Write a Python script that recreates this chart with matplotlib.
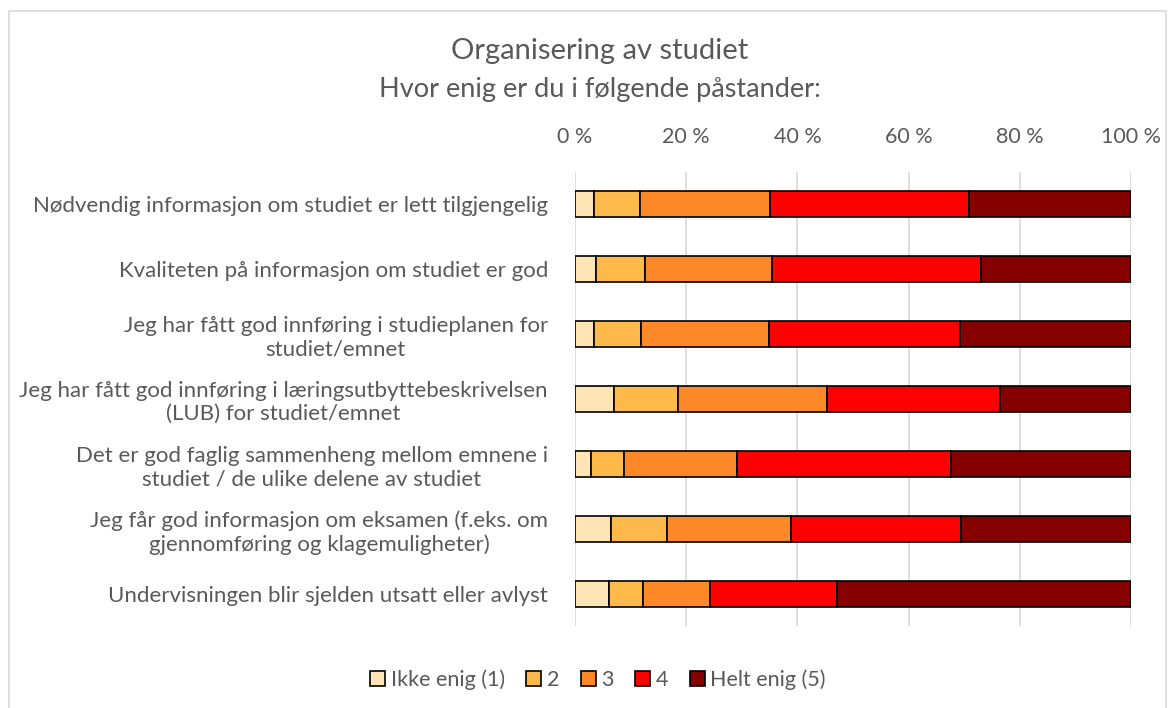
import numpy as np
import matplotlib
matplotlib.use("Agg")
from matplotlib import pyplot as plt
from matplotlib.patches import Rectangle

plt.rcParams['font.family'] = ['Lato', 'DejaVu Sans']

questions = [
    "Nødvendig informasjon om studiet er lett tilgjengelig",
    "Kvaliteten på informasjon om studiet er god",
    "Jeg har fått god innføring i studieplanen for\nstudiet/emnet",
    "Jeg har fått god innføring i læringsutbyttebeskrivelsen\n(LUB) for studiet/emnet",
    "Det er god faglig sammenheng mellom emnene i\nstudiet / de ulike delene av studiet",
    "Jeg får god informasjon om eksamen (f.eks. om\ngjennomføring og klagemuligheter)",
    "Undervisningen blir sjelden utsatt eller avlyst",
]
levels = ["Ikke enig (1)", "2", "3", "4", "Helt enig (5)"]

ikke_enig = [3.4, 3.8, 3.5, 7.1, 2.8, 6.5, 6.1]
enig_2 = [8.3, 8.8, 8.4, 11.4, 6.1, 10.1, 6.1]
enig_3 = [23.4, 22.9, 23.0, 26.9, 20.3, 22.3, 12.0]
enig_4 = [35.8, 37.6, 34.3, 31.0, 38.4, 30.6, 23.0]
helt_enig = [29.1, 26.9, 30.8, 23.6, 32.4, 30.5, 52.8]

colors = ["#FFE4B6", "#FDB94A", "#FD8827", "#FF0000", "#870000"]
grey = "#595959"

fig = plt.figure(figsize=(11.75, 7.08), dpi=100)
fig.patches.append(Rectangle((9 / 1175, -0.1), (1166 - 9) / 1175, 1.1 - 11 / 708,
                             transform=fig.transFigure, fill=False,
                             edgecolor="#D9D9D9", linewidth=1.2))

ax = fig.add_axes([575 / 1175, 1 - 626 / 708, 556 / 1175, 454 / 708])

series = [ikke_enig, enig_2, enig_3, enig_4, helt_enig]
y = np.arange(len(questions))
left = np.zeros(len(questions))
for vals, col, lab in zip(series, colors, levels):
    vals = np.array(vals)
    ax.barh(y, vals, left=left, height=0.4, color=col, edgecolor="black",
            linewidth=1.2, label=lab, zorder=3)
    left += vals

ax.set_xlim(0, 100)
ax.set_ylim(len(questions) - 0.5, -0.5)
ax.set_xticks(np.arange(0, 101, 20))
ax.set_xticklabels([f"{v} %" for v in range(0, 101, 20)])
ax.xaxis.tick_top()
ax.tick_params(axis="x", length=0, pad=18, labelsize=15.5, labelcolor=grey)
ax.set_yticks(y)
ax.set_yticklabels(questions, fontsize=16, color=grey, ha="right",
                   multialignment="center")
ax.tick_params(axis="y", length=0, pad=19.5)
ax.grid(axis="x", color="#D9D9D9", linewidth=1.2, zorder=0)
for s in ax.spines.values():
    s.set_visible(False)

fig.text(0.5105, 1 - 51 / 708, "Organisering av studiet", ha="center",
         va="center", fontsize=21, color=grey)
fig.text(0.5105, 1 - 90 / 708, "Hvor enig er du i følgende påstander:",
         ha="center", va="center", fontsize=19.5, color=grey)

fig.legend(loc="center", bbox_to_anchor=(598 / 1175, 1 - 680 / 708), ncol=5,
           frameon=False, fontsize=15.5, labelcolor=grey, handlelength=0.7,
           handleheight=0.7, handletextpad=0.25, columnspacing=1.0)

fig.savefig("out.png", dpi=100)
